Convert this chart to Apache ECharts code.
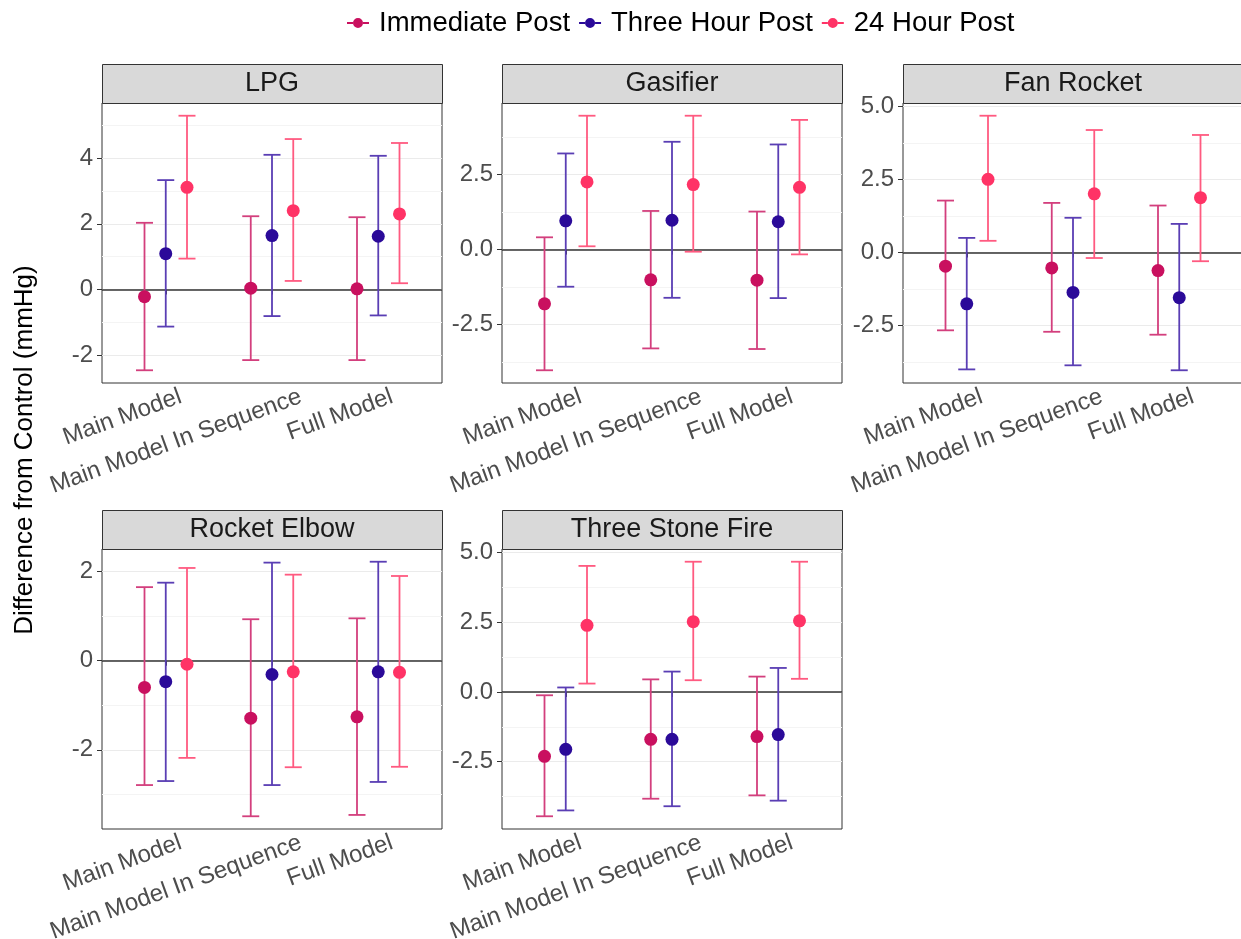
<!DOCTYPE html>
<html>
<head>
<meta charset="utf-8">
<script src="https://cdn.jsdelivr.net/npm/echarts@6/dist/echarts.min.js"></script>
<style>
  html, body { margin: 0; padding: 0; background: #fff; }
  #chart { width: 1241px; height: 939px; }
</style>
</head>
<body>
<div id="chart"></div>
<script>
var categories = ['Main Model', 'Main Model In Sequence', 'Full Model'];
var groups = ['Immediate Post', 'Three Hour Post', '24 Hour Post'];
var panels = ['LPG', 'Gasifier', 'Fan Rocket', 'Rocket Elbow', 'Three Stone Fire'];

// rows: Immediate, Three Hour, 24 Hour; columns: categories
var lpgEst  = [[-0.22, 0.04, 0.02], [1.09, 1.64, 1.62], [3.11, 2.40, 2.30]];
var lpgLow  = [[-2.46, -2.15, -2.15], [-1.13, -0.81, -0.79], [0.94, 0.26, 0.19]];
var lpgHigh = [[2.03, 2.23, 2.20], [3.33, 4.10, 4.07], [5.29, 4.58, 4.46]];

var gasEst  = [[-1.81, -1.01, -1.02], [0.96, 0.98, 0.93], [2.26, 2.17, 2.08]];
var gasLow  = [[-4.03, -3.30, -3.32], [-1.24, -1.61, -1.62], [0.11, -0.07, -0.16]];
var gasHigh = [[0.41, 1.29, 1.27], [3.21, 3.60, 3.51], [4.47, 4.47, 4.33]];

var fanEst  = [[-0.47, -0.53, -0.62], [-1.76, -1.37, -1.55], [2.51, 2.01, 1.88]];
var fanLow  = [[-2.67, -2.72, -2.82], [-4.01, -3.87, -4.04], [0.40, -0.19, -0.30]];
var fanHigh = [[1.78, 1.70, 1.61], [0.50, 1.19, 0.98], [4.69, 4.20, 4.03]];

var elbEst  = [[-0.60, -1.29, -1.26], [-0.47, -0.31, -0.25], [-0.08, -0.25, -0.26]];
var elbLow  = [[-2.79, -3.49, -3.46], [-2.70, -2.79, -2.72], [-2.18, -2.39, -2.38]];
var elbHigh = [[1.65, 0.93, 0.95], [1.75, 2.20, 2.22], [2.08, 1.93, 1.90]];

var tsfEst  = [[-2.31, -1.70, -1.60], [-2.06, -1.70, -1.53], [2.39, 2.52, 2.55]];
var tsfLow  = [[-4.46, -3.83, -3.71], [-4.25, -4.10, -3.90], [0.30, 0.42, 0.47]];
var tsfHigh = [[-0.12, 0.45, 0.55], [0.16, 0.73, 0.86], [4.52, 4.67, 4.67]];

var lpgTicks = [-2, 0, 2, 4];
var gasTicks = [-2.5, 0, 2.5];
var fanTicks = [-2.5, 0, 2.5, 5];
var elbTicks = [-2, 0, 2];
var tsfTicks = [-2.5, 0, 2.5, 5];

var lpgMinor = [-3, -1, 1, 3, 5];
var gasMinor = [-3.75, -1.25, 1.25, 3.75];
var fanMinor = [-3.75, -1.25, 1.25, 3.75];
var elbMinor = [-3, -1, 1];
var tsfMinor = [-3.75, -1.25, 1.25, 3.75];

var estAll   = [lpgEst, gasEst, fanEst, elbEst, tsfEst];
var lowAll   = [lpgLow, gasLow, fanLow, elbLow, tsfLow];
var highAll  = [lpgHigh, gasHigh, fanHigh, elbHigh, tsfHigh];
var tickAll  = [lpgTicks, gasTicks, fanTicks, elbTicks, tsfTicks];
var minorAll = [lpgMinor, gasMinor, fanMinor, elbMinor, tsfMinor];

// styles / layout
var pointColors = ['#C9105F', '#2B0A99', '#FF3366'];
var barColors = ['#D33F7D', '#5A3EB4', '#FF5A80'];
var panelLeft = [102, 502, 903, 102, 502];
var panelTop = [103, 103, 103, 549, 549];
var panelW = 340, panelH = 280, stripH = 39;
var dodge = 0.2, capWidth = 0.16;
var labelShift = [0.14, 0.27, 0.13];
var font = 'Liberation Sans, Arial, sans-serif';

var chart = echarts.init(document.getElementById('chart'));

function renderBar(params, api) {
  var x = api.value(0);
  var lo = api.coord([x, api.value(1)]);
  var hi = api.coord([x, api.value(2)]);
  var half = api.size([capWidth, 0])[0] / 2;
  var style = { stroke: api.visual('color'), lineWidth: 1.8 };
  return {
    type: 'group',
    children: [
      { type: 'line', shape: { x1: lo[0], y1: lo[1], x2: hi[0], y2: hi[1] }, style: style },
      { type: 'line', shape: { x1: hi[0] - half, y1: hi[1], x2: hi[0] + half, y2: hi[1] }, style: style },
      { type: 'line', shape: { x1: lo[0] - half, y1: lo[1], x2: lo[0] + half, y2: lo[1] }, style: style }
    ]
  };
}

var grids = [], xAxes = [], yAxes = [], series = [], graphics = [];

panels.forEach(function (name, p) {
  grids.push({
    left: panelLeft[p], top: panelTop[p], width: panelW, height: panelH,
    show: true, borderColor: '#333', borderWidth: 1, backgroundColor: '#fff',
    containLabel: false, outerBoundsMode: 'none'
  });

  // ggplot style 5% expansion of the data range
  var lo = Infinity, hi = -Infinity;
  lowAll[p].forEach(function (r) { r.forEach(function (v) { lo = Math.min(lo, v); }); });
  highAll[p].forEach(function (r) { r.forEach(function (v) { hi = Math.max(hi, v); }); });
  var pad = (hi - lo) * 0.05;

  xAxes.push({
    type: 'value', gridIndex: p, min: 0.4, max: 3.6,
    axisLine: { show: false },
    splitLine: { show: false },
    axisTick: { show: true, customValues: [1, 2, 3], length: 5, lineStyle: { color: '#333', width: 1 } },
    axisLabel: {
      customValues: [1 + labelShift[0], 2 + labelShift[1], 3 + labelShift[2]],
      formatter: function (v) { return categories[Math.round(v) - 1]; },
      rotate: 20, margin: 13, color: '#4D4D4D', fontSize: 24, fontFamily: font
    }
  });

  yAxes.push({
    type: 'value', gridIndex: p, min: lo - pad, max: hi + pad,
    axisLine: { show: false },
    axisTick: { show: true, customValues: tickAll[p], length: 5, lineStyle: { color: '#333', width: 1 } },
    axisLabel: {
      customValues: tickAll[p], margin: 9, color: '#4D4D4D', fontSize: 24, fontFamily: font,
      formatter: function (v) { return tickAll[p].indexOf(2.5) >= 0 ? v.toFixed(1) : String(v); }
    },
    splitLine: { show: true, lineStyle: { color: '#EBEBEB', width: 1 } }
  });
  yAxes.push({
    type: 'value', gridIndex: p, min: lo - pad, max: hi + pad, position: 'left',
    axisLine: { show: false },
    axisTick: { show: false, customValues: minorAll[p] },
    axisLabel: { show: false },
    splitLine: { show: true, lineStyle: { color: '#F4F4F4', width: 1 } }
  });

  groups.forEach(function (g, k) {
    var pts = categories.map(function (c, i) {
      return [i + 1 + (k - 1) * dodge, estAll[p][k][i]];
    });
    var bars = categories.map(function (c, i) {
      return [i + 1 + (k - 1) * dodge, lowAll[p][k][i], highAll[p][k][i]];
    });
    var sc = {
      name: g, type: 'scatter', xAxisIndex: p, yAxisIndex: p * 2,
      data: pts, symbol: 'circle', symbolSize: 13, z: 4,
      itemStyle: { color: pointColors[k], opacity: 1 },
      emphasis: { disabled: true }
    };
    if (k === 0) {
      sc.markLine = {
        silent: true, symbol: 'none', label: { show: false },
        lineStyle: { color: '#333', width: 1.5, type: 'solid' },
        data: [{ yAxis: 0 }], z: 1
      };
    }
    series.push(sc);
    series.push({
      name: g, type: 'custom', xAxisIndex: p, yAxisIndex: p * 2,
      data: bars, renderItem: renderBar, z: 3,
      encode: { x: 0, y: [1, 2] },
      itemStyle: { color: barColors[k] }
    });
  });

  // facet strip
  graphics.push({
    type: 'rect', left: panelLeft[p], top: panelTop[p] - stripH, z: 10,
    shape: { width: panelW, height: stripH },
    style: { fill: '#D9D9D9', stroke: '#333', lineWidth: 1 }
  });
  graphics.push({
    type: 'text', z: 11,
    x: panelLeft[p] + panelW / 2, y: panelTop[p] - stripH / 2,
    style: {
      text: name, fill: '#1A1A1A', fontSize: 27, fontFamily: font,
      align: 'center', verticalAlign: 'middle'
    }
  });
});

graphics.push({
  type: 'text', x: 25, y: 450, rotation: Math.PI / 2, z: 11,
  style: {
    text: 'Difference from Control (mmHg)', fill: '#000', fontSize: 26, fontFamily: font,
    align: 'center', verticalAlign: 'middle'
  }
});

// line + point key, pieces kept apart so nothing cancels out
var keyIcon = 'path://M0,4L6,4L6,6L0,6Z M16,4L22,4L22,6L16,6Z M6,5A5,5,0,1,1,16,5A5,5,0,1,1,6,5Z';

var option = {
  backgroundColor: '#fff',
  animation: false,
  legend: {
    top: 4, left: 342, orient: 'horizontal',
    itemWidth: 22, itemHeight: 10, itemGap: 9,
    textStyle: { fontSize: 27.5, color: '#000', fontFamily: font, padding: [0, 0, 0, 5] },
    data: groups.map(function (g, k) {
      return { name: g, icon: keyIcon, itemStyle: { color: pointColors[k] } };
    })
  },
  grid: grids,
  xAxis: xAxes,
  yAxis: yAxes,
  series: series,
  graphic: graphics
};

chart.setOption(option);
</script>
</body>
</html>
